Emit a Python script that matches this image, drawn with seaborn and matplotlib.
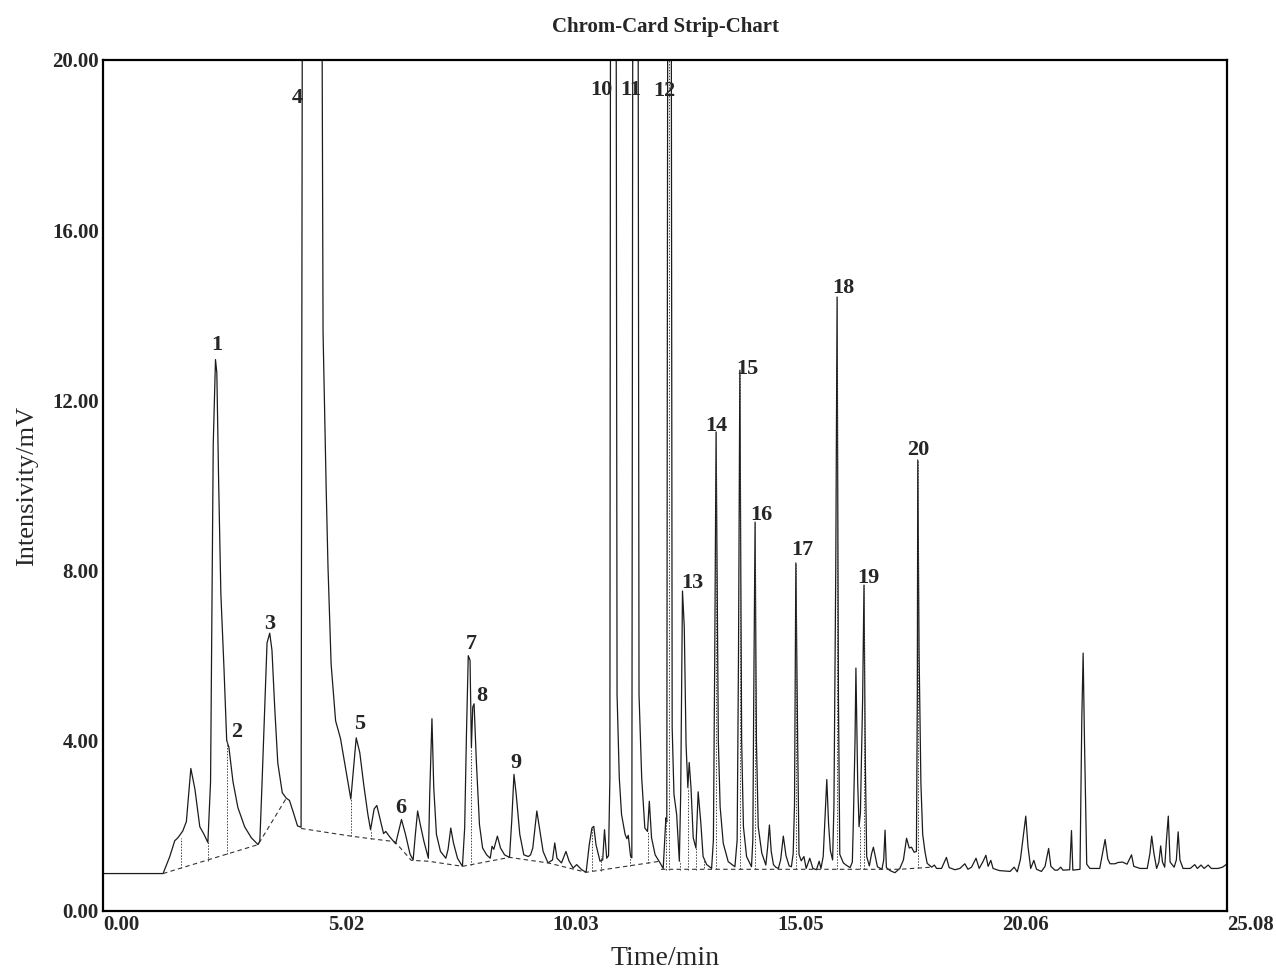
import numpy as np
import pandas as pd
import matplotlib
matplotlib.use("Agg")
import matplotlib.pyplot as plt
import seaborn as sns

# ===== Data =====
# detector trace, time (min) / intensity (mV); values > 20 are off-scale tops
trace_t = [0.00, 1.34, 1.49, 1.60, 1.67, 1.78, 1.86, 1.96, 2.05, 2.16, 2.25, 2.34,
           2.40, 2.46, 2.51, 2.54, 2.58, 2.63, 2.70, 2.76, 2.81, 2.90, 3.01, 3.16,
           3.31, 3.46, 3.50, 3.55, 3.61, 3.66, 3.72, 3.77, 3.83, 3.90, 4.00, 4.09,
           4.16, 4.24, 4.34, 4.42, 4.46, 4.66, 4.86, 4.91, 4.98, 5.02, 5.09, 5.19,
           5.30, 5.43, 5.53, 5.65, 5.73, 5.82, 5.91, 5.97, 6.05, 6.11, 6.19, 6.26,
           6.31, 6.40, 6.53, 6.66, 6.75, 6.85, 6.92, 6.97, 7.02, 7.08, 7.16, 7.26,
           7.29, 7.34, 7.38, 7.44, 7.53, 7.65, 7.70, 7.76, 7.82, 7.91, 8.02, 8.07,
           8.11, 8.15, 8.19, 8.22, 8.25, 8.28, 8.33, 8.40, 8.47, 8.56, 8.64, 8.68,
           8.72, 8.80, 8.87, 8.96, 9.07, 9.12, 9.17, 9.22, 9.30, 9.39, 9.49, 9.54,
           9.59, 9.68, 9.74, 9.82, 9.93, 10.03, 10.08, 10.13, 10.23, 10.33, 10.40, 10.49,
           10.57, 10.68, 10.78, 10.85, 10.91, 10.95, 11.00, 11.09, 11.15, 11.19, 11.24, 11.28,
           11.31, 11.33, 11.38, 11.44, 11.47, 11.52, 11.57, 11.65, 11.69, 11.72, 11.77, 11.80,
           11.83, 11.88, 11.93, 11.96, 12.02, 12.09, 12.15, 12.19, 12.24, 12.32, 12.43, 12.50,
           12.56, 12.58, 12.61, 12.64, 12.67, 12.70, 12.74, 12.80, 12.86, 12.89, 12.93, 12.97,
           13.01, 13.05, 13.08, 13.12, 13.17, 13.23, 13.28, 13.34, 13.39, 13.47, 13.51, 13.58,
           13.62, 13.65, 13.68, 13.71, 13.73, 13.77, 13.84, 13.95, 14.10, 14.15, 14.18, 14.21,
           14.24, 14.25, 14.29, 14.36, 14.47, 14.50, 14.52, 14.55, 14.58, 14.62, 14.70, 14.79,
           14.83, 14.87, 14.91, 14.96, 15.01, 15.07, 15.12, 15.18, 15.24, 15.31, 15.36, 15.40,
           15.43, 15.46, 15.50, 15.53, 15.58, 15.64, 15.69, 15.77, 15.84, 15.92, 15.98, 16.02,
           16.07, 16.15, 16.19, 16.23, 16.28, 16.31, 16.35, 16.38, 16.41, 16.44, 16.52, 16.58,
           16.67, 16.72, 16.74, 16.78, 16.80, 16.84, 16.87, 16.90, 16.95, 16.98, 17.01, 17.04,
           17.10, 17.15, 17.19, 17.23, 17.28, 17.38, 17.42, 17.45, 17.48, 17.56, 17.67, 17.78,
           17.86, 17.93, 17.99, 18.04, 18.10, 18.15, 18.17, 18.18, 18.21, 18.25, 18.29, 18.34,
           18.39, 18.49, 18.55, 18.60, 18.71, 18.82, 18.88, 19.01, 19.12, 19.23, 19.30, 19.38,
           19.48, 19.55, 19.63, 19.70, 19.75, 19.81, 19.86, 20.00, 20.24, 20.33, 20.40, 20.47,
           20.59, 20.64, 20.70, 20.77, 20.83, 20.94, 21.02, 21.10, 21.15, 21.24, 21.30, 21.37,
           21.42, 21.57, 21.61, 21.64, 21.80, 21.84, 21.87, 21.90, 21.95, 22.02, 22.24, 22.36,
           22.42, 22.47, 22.58, 22.65, 22.75, 22.85, 22.95, 23.00, 23.14, 23.30, 23.36, 23.40,
           23.45, 23.51, 23.56, 23.60, 23.64, 23.69, 23.73, 23.77, 23.81, 23.90, 23.95, 23.99,
           24.03, 24.10, 24.26, 24.36, 24.42, 24.50, 24.57, 24.66, 24.73, 24.88, 24.98, 25.06,
           25.08]
trace_mv = [0.88, 0.88, 1.28, 1.65, 1.72, 1.88, 2.10, 3.35, 2.87, 1.98, 1.81, 1.61,
            3.04, 10.98, 12.96, 12.65, 10.10, 7.45, 5.69, 4.01, 3.84, 3.04, 2.43, 1.98,
            1.72, 1.56, 1.65, 3.04, 4.81, 6.30, 6.53, 6.13, 4.81, 3.48, 2.78, 2.65,
            2.60, 2.34, 2.00, 1.97, 30.0, 60.0, 30.0, 13.6, 9.92, 8.10, 5.80, 4.47,
            4.05, 3.25, 2.63, 4.07, 3.72, 2.95, 2.27, 1.91, 2.40, 2.48, 2.13, 1.82,
            1.87, 1.74, 1.58, 2.15, 1.80, 1.34, 1.20, 1.80, 2.35, 2.03, 1.64, 1.24,
            2.74, 4.52, 2.90, 1.80, 1.40, 1.24, 1.45, 1.95, 1.60, 1.24, 1.05, 1.95,
            4.16, 6.00, 5.89, 3.84, 4.79, 4.87, 3.53, 2.03, 1.48, 1.32, 1.24, 1.52,
            1.45, 1.76, 1.48, 1.32, 1.26, 2.11, 3.21, 2.74, 1.80, 1.32, 1.28, 1.32,
            1.48, 2.35, 1.95, 1.40, 1.13, 1.20, 1.60, 1.24, 1.13, 1.40, 1.17, 1.01,
            1.09, 0.97, 0.91, 1.56, 1.95, 1.99, 1.56, 1.17, 1.20, 1.91, 1.24, 1.30,
            3.10, 30.0, 50.0, 30.0, 5.10, 3.13, 2.27, 1.80, 1.70, 1.78, 1.30, 1.25,
            30.0, 50.0, 30.0, 5.10, 3.13, 1.95, 1.87, 2.58, 1.72, 1.32, 1.13, 1.00,
            2.19, 2.10, 30.0, 50.0, 30.0, 4.31, 2.74, 2.27, 1.17, 2.74, 7.52, 6.68,
            3.92, 2.90, 3.49, 2.90, 1.72, 1.48, 2.80, 2.06, 1.28, 1.09, 1.06, 1.00,
            1.67, 6.00, 11.26, 7.00, 4.00, 2.45, 1.59, 1.16, 1.04, 1.67, 6.00, 12.71,
            6.00, 4.00, 1.98, 1.28, 1.04, 1.67, 5.00, 9.14, 4.00, 1.98, 1.36, 1.08,
            1.50, 2.02, 1.40, 1.09, 1.03, 1.00, 1.20, 1.76, 1.30, 1.06, 1.04, 1.35,
            2.50, 8.18, 4.00, 1.33, 1.18, 1.28, 1.00, 1.24, 1.00, 0.97, 1.17, 1.00,
            1.28, 3.09, 2.05, 1.42, 1.20, 2.50, 8.00, 14.43, 5.00, 1.33, 1.13, 1.08,
            1.02, 1.15, 1.98, 4.00, 5.71, 3.00, 1.98, 2.30, 5.00, 7.66, 3.50, 1.28,
            1.06, 1.35, 1.50, 1.30, 1.04, 0.98, 1.20, 1.90, 1.02, 0.95, 0.90, 1.00,
            1.20, 1.71, 1.48, 1.50, 1.38, 1.40, 5.00, 10.60, 6.00, 3.00, 1.80, 1.40,
            1.12, 1.03, 1.08, 1.00, 1.00, 1.26, 1.02, 0.97, 1.00, 1.11, 0.98, 1.03,
            1.24, 1.00, 1.15, 1.31, 1.05, 1.19, 1.00, 0.95, 0.93, 1.03, 0.92, 1.21,
            2.23, 1.51, 1.00, 1.19, 0.98, 0.93, 1.05, 1.47, 1.05, 0.96, 0.96, 1.03,
            0.96, 0.97, 1.89, 0.96, 0.98, 4.50, 6.06, 4.00, 1.10, 1.00, 1.00, 1.68,
            1.22, 1.11, 1.11, 1.14, 1.15, 1.10, 1.32, 1.05, 1.00, 1.00, 1.35, 1.76,
            1.35, 1.00, 1.15, 1.53, 1.15, 1.03, 1.68, 2.23, 1.15, 1.03, 1.20, 1.86,
            1.20, 1.00, 1.00, 1.09, 1.00, 1.08, 1.00, 1.08, 1.00, 1.00, 1.03, 1.09,
            1.09]

# integration baselines (dashed), one list per segment
base1_t = [1.34, 3.46, 4.09]
base1_mv = [0.88, 1.56, 2.65]
base2_t = [4.42, 5.53, 5.97, 6.51, 6.88, 7.26, 8.02, 9.07, 9.93, 10.78, 12.43]
base2_mv = [1.94, 1.76, 1.70, 1.63, 1.19, 1.17, 1.05, 1.26, 1.13, 0.91, 1.17]
base3_t = [12.45, 17.78, 18.49]
base3_mv = [0.98, 0.98, 1.03]

# peak drop lines (dotted)
drop_t = [1.73, 2.34, 2.76, 5.53, 5.97, 8.22, 10.92, 11.12, 11.76, 12.15, 12.57, 12.64,
          12.87, 13.05, 13.23, 13.40, 13.68, 14.21, 14.55, 15.46, 16.38, 16.89, 16.98, 18.18]
drop_top = [1.72, 1.61, 4.01, 2.63, 1.91, 3.84, 1.95, 1.30, 1.30, 1.87, 2.20, 20.0,
            1.17, 2.90, 1.48, 1.28, 11.26, 12.71, 9.14, 8.18, 14.43, 1.98, 7.66, 10.60]
drop_bot = [1.00, 1.17, 1.35, 1.76, 1.70, 1.07, 0.93, 0.95, 1.05, 1.12, 0.97, 0.97,
            0.97, 0.97, 0.97, 1.00, 0.98, 0.98, 0.98, 0.98, 0.98, 0.98, 0.98, 1.00]

# peak numbers
peak_labels = [str(i) for i in range(1, 21)]
label_t = [2.54, 2.99, 3.73, 4.33, 5.73, 6.65, 8.21, 8.46, 9.21, 11.13,
           11.78, 12.52, 13.14, 13.68, 14.37, 14.68, 15.60, 16.51, 17.07, 18.18]
label_mv = [13.30, 4.20, 6.75, 19.10, 4.40, 2.42, 6.28, 5.06, 3.48, 19.30,
            19.30, 19.28, 7.71, 11.40, 12.74, 9.31, 8.49, 14.64, 7.83, 10.84]

time_ticks = [0.0, 2.508, 5.016, 7.524, 10.032, 12.54, 15.048, 17.556, 20.064, 22.572, 25.08]
time_labels = ["0.00", "5.02", "10.03", "15.05", "20.06", "25.08"]
mv_ticks = [0, 2, 4, 6, 8, 10, 12, 14, 16, 18, 20]
mv_labels = ["0.00", "4.00", "8.00", "12.00", "16.00", "20.00"]

# ===== Plot =====
sns.set_style("white")
plt.rcParams['font.family'] = ['Liberation Serif', 'DejaVu Serif']

fig = plt.figure(figsize=(12.76, 9.69), dpi=100)
ax = fig.add_axes([103 / 1276, 1 - 911 / 969, 1124 / 1276, 851 / 969])

df = pd.DataFrame({"time": trace_t, "mv": trace_mv})
sns.lineplot(data=df, x="time", y="mv", sort=False, estimator=None,
             color="#1c1c1c", linewidth=0.9, ax=ax)

for bt, bm in [(base1_t, base1_mv), (base2_t, base2_mv), (base3_t, base3_mv)]:
    sns.lineplot(x=bt, y=bm, sort=False, estimator=None, color="#333333",
                 linewidth=0.8, linestyle=(0, (4, 3)), ax=ax)

ax.vlines(drop_t, drop_bot, drop_top, colors="#444444", linewidth=0.7,
          linestyles=(0, (1.5, 1.5)))

for lab, lt, lm in zip(peak_labels, label_t, label_mv):
    ax.text(lt, lm, lab, ha="center", va="center", fontsize=16, fontweight="bold")

ax.set_xlim(0, 25.08)
ax.set_ylim(0, 20)
ax.set_xticks(time_ticks[::2], time_labels)
ax.set_xticks(time_ticks[1::2], minor=True)
ax.set_yticks(mv_ticks[::2], mv_labels)
ax.set_yticks(mv_ticks[1::2], minor=True)
for lbl in ax.get_xticklabels():
    lbl.set_horizontalalignment("left")
    lbl.set_fontweight("bold")
for lbl in ax.get_yticklabels():
    lbl.set_fontweight("bold")
ax.tick_params(which="both", direction="in", length=6, width=1, labelsize=15,
               top=False, right=False, color="black")
ax.tick_params(axis="x", pad=3)
ax.tick_params(axis="y", pad=3)

for sp in ax.spines.values():
    sp.set_visible(True)
    sp.set_color("black")
    sp.set_linewidth(1.6)

ax.set_xlabel("Time/min", fontsize=20)
ax.set_ylabel("Intensivity/mV", fontsize=19)
ax.xaxis.set_label_coords(0.5, -0.041)
ax.yaxis.set_label_coords(-0.058, 0.5)
ax.set_title("Chrom-Card Strip-Chart", fontsize=15, fontweight="bold", pad=20)

fig.savefig("out.png", dpi=100)
